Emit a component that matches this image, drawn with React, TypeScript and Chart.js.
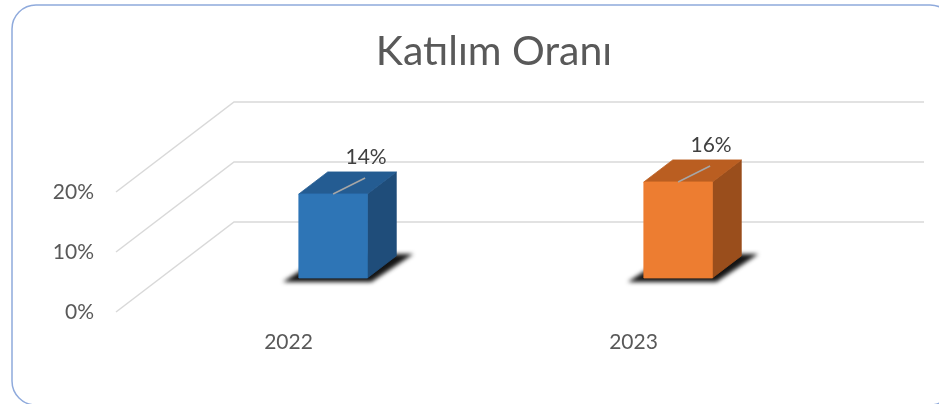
import React, { useEffect, useRef } from "react";
import { Chart, registerables } from "chart.js";

Chart.register(...registerables);

// ---- data ----
const titleText = "Katılım Oranı";
const categories = ["2022", "2023"];
const values = [0.14, 0.16];
const yTicks = [0, 0.1, 0.2];
const frontColors = ["#2E75B6", "#ED7D31"];
const topColors = ["#245C92", "#BA5E21"];
const sideColors = ["#1F4D7A", "#9A4E1C"];

// ---- style constants (3D projection) ----
const DEPTH_X = 118;
const DEPTH_Y = -90;
const BAR_START = 0.378;
const BAR_DEPTH = 0.245;
const FONT = "Lato";

const pct = (v: number) => Math.round(v * 100) + "%";

const threeD = {
  id: "threeD",
  beforeDraw(chart: any) {
    const ctx = chart.ctx;
    ctx.save();
    ctx.fillStyle = "#ffffff";
    ctx.fillRect(0, 0, chart.width, chart.height);
    // rounded border
    const x0 = 12, y0 = 5, x1 = 954, y1 = 405, r = 24;
    ctx.beginPath();
    ctx.moveTo(x0 + r, y0);
    ctx.lineTo(x1 - r, y0);
    ctx.arcTo(x1, y0, x1, y0 + r, r);
    ctx.lineTo(x1, y1 - r);
    ctx.arcTo(x1, y1, x1 - r, y1, r);
    ctx.lineTo(x0 + r, y1);
    ctx.arcTo(x0, y1, x0, y1 - r, r);
    ctx.lineTo(x0, y0 + r);
    ctx.arcTo(x0, y0, x0 + r, y0, r);
    ctx.closePath();
    ctx.strokeStyle = "#8FAADC";
    ctx.lineWidth = 1.5;
    ctx.stroke();
    // title
    ctx.fillStyle = "#595959";
    ctx.font = `41px ${FONT}`;
    ctx.textAlign = "center";
    ctx.textBaseline = "alphabetic";
    ctx.fillText(titleText, 494, 65);
    ctx.restore();
  },
  beforeDatasetsDraw(chart: any) {
    const ctx = chart.ctx;
    const area = chart.chartArea;
    const ys = chart.scales.y;
    ctx.save();
    ctx.strokeStyle = "#D9D9D9";
    ctx.lineWidth = 1.5;
    yTicks.forEach((v) => {
      const yf = ys.getPixelForValue(v);
      ctx.beginPath();
      ctx.moveTo(area.left, yf);
      ctx.lineTo(area.left + DEPTH_X, yf + DEPTH_Y);
      ctx.lineTo(area.right + DEPTH_X, yf + DEPTH_Y);
      ctx.stroke();
    });
    ctx.restore();
  },
  afterDatasetsDraw(chart: any) {
    const ctx = chart.ctx;
    const meta = chart.getDatasetMeta(0);
    const ox = DEPTH_X * BAR_START, oy = DEPTH_Y * BAR_START;
    const dx = DEPTH_X * BAR_DEPTH, dy = DEPTH_Y * BAR_DEPTH;
    meta.data.forEach((el: any, i: number) => {
      const { x, y, base, width } = el.getProps(["x", "y", "base", "width"], true);
      const L = x - width / 2 + ox;
      const R = x + width / 2 + ox;
      const T = y + oy;
      const B = base + oy;
      ctx.save();
      // shadow
      ctx.filter = "blur(2px)";
      ctx.fillStyle = "#141414";
      ctx.beginPath();
      ctx.moveTo(L - 16, B + 4);
      ctx.lineTo(R + 4, B + 4);
      ctx.lineTo(R + dx + 17, B + dy - 2);
      ctx.lineTo(L + dx - 2, B + dy - 2);
      ctx.closePath();
      ctx.fill();
      ctx.filter = "none";
      const face = (pts: number[][], color: string) => {
        ctx.beginPath();
        ctx.moveTo(pts[0][0], pts[0][1]);
        for (let k = 1; k < pts.length; k++) ctx.lineTo(pts[k][0], pts[k][1]);
        ctx.closePath();
        ctx.fillStyle = color;
        ctx.fill();
        ctx.strokeStyle = color;
        ctx.lineWidth = 0.8;
        ctx.stroke();
      };
      face([[R, T], [R + dx, T + dy], [R + dx, B + dy], [R, B]], sideColors[i]);
      face([[L, T], [R, T], [R + dx, T + dy], [L + dx, T + dy]], topColors[i]);
      face([[L, T], [R, T], [R, B], [L, B]], frontColors[i]);
      // leader line
      const cx = (L + R) / 2;
      ctx.strokeStyle = "#A6A6A6";
      ctx.lineWidth = 1.5;
      ctx.beginPath();
      ctx.moveTo(cx, T);
      ctx.lineTo(cx + 32, T - 16);
      ctx.stroke();
      // data label
      ctx.fillStyle = "#404040";
      ctx.font = `21px ${FONT}`;
      ctx.textAlign = "center";
      ctx.textBaseline = "alphabetic";
      ctx.fillText(pct(values[i]), cx + 33, T - 30);
      ctx.restore();
    });
  },
};

export default function App() {
  const ref = useRef<HTMLCanvasElement | null>(null);
  useEffect(() => {
    if (!ref.current) return;
    const chart = new Chart(ref.current, {
      type: "bar",
      data: {
        labels: categories,
        datasets: [
          {
            data: values,
            backgroundColor: "rgba(0,0,0,0)",
            borderWidth: 0,
            categoryPercentage: 1,
            barPercentage: 0.1986,
          },
        ],
      },
      options: {
        animation: false,
        responsive: false,
        layout: { padding: { top: 192, right: 133, left: 0, bottom: 0 } },
        plugins: {
          legend: { display: false },
          title: { display: false },
          tooltip: { enabled: false },
        },
        scales: {
          x: {
            grid: { display: false, drawTicks: false },
            border: { display: false },
            ticks: { color: "#595959", font: { family: FONT, size: 21 }, padding: 18 },
            afterFit: (s: any) => {
              s.height = 92;
            },
          },
          y: {
            min: 0,
            max: 0.2,
            grid: { display: false, drawTicks: false },
            border: { display: false },
            afterBuildTicks: (s: any) => {
              s.ticks = yTicks.map((v) => ({ value: v }));
            },
            ticks: {
              color: "#595959",
              font: { family: FONT, size: 21 },
              padding: 22,
              callback: (v: any) => pct(Number(v)),
            },
            afterFit: (s: any) => {
              s.width = 116;
            },
          },
        },
      },
      plugins: [threeD],
    });
    return () => chart.destroy();
  }, []);
  return (
    <div style={{ position: "fixed", left: 0, top: 0, width: 939, height: 404, background: "#fff" }}>
      <canvas ref={ref} width={939} height={404} style={{ display: "block", width: 939, height: 404 }} />
    </div>
  );
}
